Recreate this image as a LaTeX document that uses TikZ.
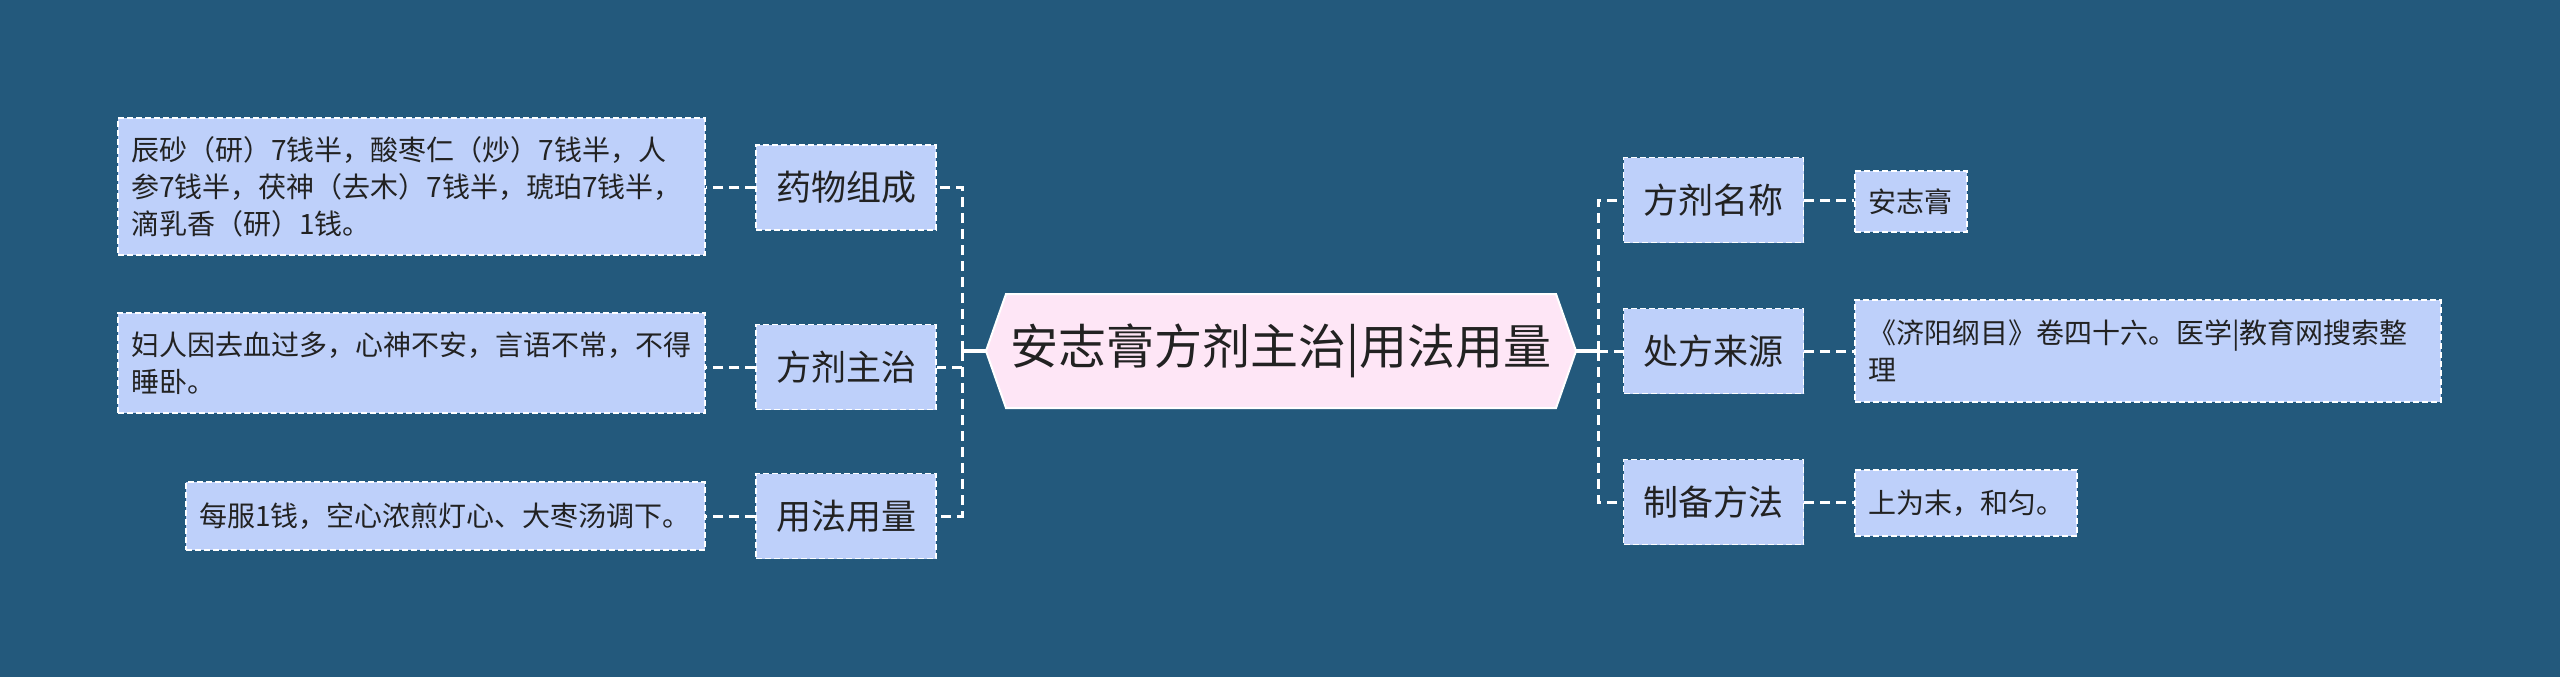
\documentclass[tikz,border=0pt]{standalone}
\usepackage{fontspec}
\newfontfamily\cjk{Noto Sans CJK SC}
\definecolor{bg}{RGB}{35,89,124}
\definecolor{nodefill}{RGB}{190,208,250}
\definecolor{cfill}{RGB}{254,230,246}
\definecolor{txt}{RGB}{34,34,34}
\begin{document}
\begin{tikzpicture}[x=1pt,y=-1pt,
 every node/.style={text=txt},
 lvone/.style={draw=white, line width=1.5pt, dash pattern=on 6pt off 3pt, fill=nodefill, minimum width=180pt, minimum height=85pt, inner sep=0pt, font=\cjk\fontsize{35}{42}\selectfont},
 leaf/.style={draw=white, line width=1.5pt, dash pattern=on 6pt off 3pt, fill=nodefill, inner xsep=13pt, inner ysep=0pt, align=left, font=\cjk\fontsize{28}{37}\selectfont},
 conn/.style={white, line width=3pt, dash pattern=on 10pt off 6pt},
 solidconn/.style={white, line width=3.5pt},
]
\fill[bg] (0,0) rectangle (2560,677);
\useasboundingbox (0,0) rectangle (2560,677);
% central hexagon
\filldraw[fill=cfill, draw=white, line width=2pt] (986,351) -- (1006,294) -- (1556,294) -- (1576,351) -- (1556,408) -- (1006,408) -- cycle;
\node[minimum width=590pt, minimum height=115pt, inner sep=0pt, font=\cjk\fontsize{48}{58}\selectfont] (c) at (1281,351) {安志膏方剂主治|用法用量};
% level one
\node[lvone] (n1) at (846,187.5) {药物组成};
\node[lvone] (n2) at (846,367) {方剂主治};
\node[lvone] (n3) at (846,516) {用法用量};
\node[lvone] (r1) at (1713.5,200) {方剂名称};
\node[lvone] (r2) at (1713.5,351) {处方来源};
\node[lvone] (r3) at (1713.5,502) {制备方法};
% leaves
\node[leaf, text width=561pt, minimum height=137pt] (l1) at (411.5,186.5) {辰砂（研）7钱半，酸枣仁（炒）7钱半，人\\参7钱半，茯神（去木）7钱半，琥珀7钱半，\\滴乳香（研）1钱。};
\node[leaf, text width=561pt, minimum height=100pt] (l2) at (411.5,363) {妇人因去血过多，心神不安，言语不常，不得\\睡卧。};
\node[leaf, text width=493pt, minimum height=68pt] (l3) at (445.5,516) {每服1钱，空心浓煎灯心、大枣汤调下。};
\node[leaf, text width=86pt, minimum height=61pt] (s1) at (1911,201.5) {安志膏};
\node[leaf, text width=560pt, minimum height=102pt] (s2) at (2148,351) {《济阳纲目》卷四十六。医学|教育网搜索整\\理};
\node[leaf, text width=196pt, minimum height=66pt] (s3) at (1966,503) {上为末，和匀。};
% junctions
\coordinate (lj) at (962,351);
\coordinate (rj) at (1598,351);
\draw[solidconn] (c.west) -- (lj);
\draw[solidconn] (c.east) -- (rj);
\draw[conn] (lj) |- (n1.east);
\draw[conn] (lj) |- (n2.east);
\draw[conn] (lj) |- (n3.east);
\draw[conn] (rj) |- (r1.west);
\draw[conn] (rj) |- (r2.west);
\draw[conn] (rj) |- (r3.west);
\draw[conn] (n1.west) -- (n1.west -| l1.east);
\draw[conn] (n2.west) -- (n2.west -| l2.east);
\draw[conn] (n3.west) -- (n3.west -| l3.east);
\draw[conn] (r1.east) -- (r1.east -| s1.west);
\draw[conn] (r2.east) -- (r2.east -| s2.west);
\draw[conn] (r3.east) -- (r3.east -| s3.west);
\end{tikzpicture}
\end{document}
